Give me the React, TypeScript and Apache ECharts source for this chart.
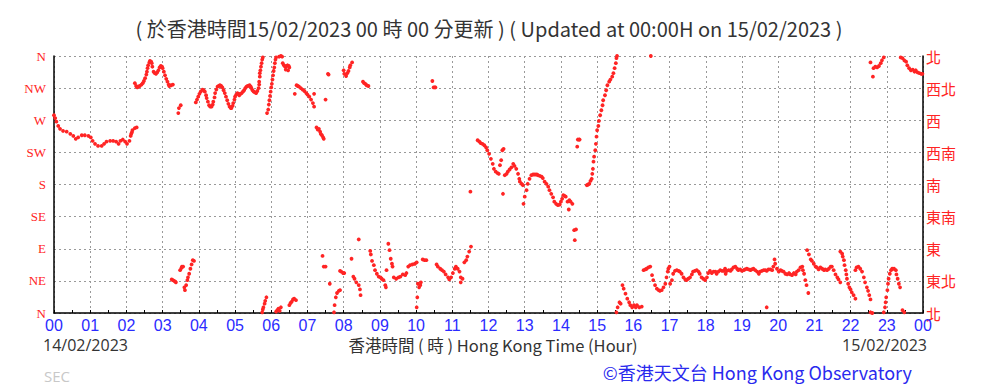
import React, { useEffect, useRef } from "react";
import * as echarts from "echarts";

// x: minutes after 00:00 on 14/02/2023, y: wind direction in degrees (0 = N, 360 = N)
const hourLabels = ["00","01","02","03","04","05","06","07","08","09","10","11","12","13","14","15","16","17","18","19","20","21","22","23","00"];
const dirLabelsEn = ["N","NE","E","SE","S","SW","W","NW","N"];
const dirLabelsZh = ["北","東北","東","東南","南","西南","西","西北","北"];

const seg0000 = [[0,277],[2,273],[4,268],[7,262],[10,258],[15,255],[21,254],[27,251],[32,248],[36,244],[40,246],[46,249],[51,249],[57,248],[61,246],[64,241],[68,237],[73,234],[79,234],[83,237],[87,240],[93,241],[98,241],[103,240],[107,237],[110,241],[114,243],[118,240],[121,237],[125,241],[127,248],[128,251],[129,253],[130,256],[134,259],[137,260]];
const seg0215 = [[134,322],[136,318],[138,316],[140,317],[142,318],[145,320],[147,322],[149,325],[151,329],[153,334],[154,338],[155,343],[156,347],[158,351],[159,353],[161,352],[162,350],[163,345],[165,338],[167,336],[169,335],[171,337],[173,340],[175,344],[177,346],[179,345],[180,343],[182,338],[184,333],[186,328],[188,324],[190,320],[191,318],[194,319],[197,320]];
const seg0325 = [[206,280],[207,287],[210,291]];
const seg0315 = [[195,47],[197,46],[199,45],[201,44],[202,43],[209,60],[211,63],[212,65],[214,65],[216,36],[217,32],[219,39],[221,46],[222,50],[224,55],[226,62],[228,68],[230,74],[232,73]];
const seg0355 = [[235,295],[237,299],[239,303],[241,307],[243,310],[246,313],[248,312],[250,310],[252,305],[253,301],[255,296],[257,291],[259,289],[261,289],[263,292],[264,296],[266,302],[267,308],[269,313],[271,317],[273,318],[275,319],[277,318],[279,316],[281,312],[283,308],[285,303],[287,298],[289,293],[291,289],[293,287],[294,287],[296,290],[297,294],[299,299],[300,303],[302,306],[304,308],[306,307],[307,305],[309,307],[311,308],[313,310],[315,312],[317,315],[319,317],[321,318],[324,319],[326,317],[327,315],[329,312],[331,310],[333,309],[335,308],[337,311],[339,315],[340,320],[340,324],[341,331],[341,336],[342,340],[343,345],[344,350],[345,355],[346,358]];
const seg0545 = [[345,1],[346,5],[347,8],[349,13],[350,17],[352,22],[368,2],[370,4],[372,6],[374,3],[376,8],[390,11],[392,14],[394,16],[396,19],[398,20],[401,18]];
const seg0553 = [[353,280],[355,285],[356,292],[357,298],[358,304],[359,310],[360,316],[361,321],[362,327],[363,333],[364,339],[365,344],[366,350],[367,355],[368,358]];
const seg0613 = [[373,359],[376,360],[378,359],[379,350],[381,347],[383,345],[385,346],[387,347],[389,346],[390,344],[384,341],[388,340]];
const seg0640 = [[399,307],[402,319],[404,318],[406,317],[409,315],[412,313],[415,311],[418,308],[420,306],[423,303],[426,299],[429,294],[431,289],[431,307]];
const seg0715 = [[435,260],[437,257],[439,258],[441,254],[442,251],[444,249],[446,246],[447,244],[450,299],[454,335],[455,334]];
const seg0800 = [[480,340],[481,335],[484,332],[486,336],[488,339],[490,344],[491,347],[494,351]];
const seg0830 = [[512,324],[514,322],[516,321],[518,319],[521,318]];
const seg1025 = [[627,325],[629,316],[631,316],[632,316]];
const seg0725 = [[445,80],[447,65],[450,65],[457,41],[464,1],[465,11],[467,22],[469,28],[472,31],[474,32],[474,59],[476,58],[479,56],[481,56],[493,76]];
const seg0815 = [[496,51],[498,48],[501,43],[505,39],[507,33],[508,25],[505,103]];
const seg0845 = [[524,87],[525,82],[527,73],[530,67],[532,60],[535,55],[538,51],[541,50],[543,48],[546,46],[549,39],[550,36]];
const seg0915 = [[554,97],[556,88],[558,76],[560,69],[561,65],[551,60]];
const seg0925 = [[563,50],[567,48],[571,50],[574,51],[578,54],[582,53],[584,56],[587,65],[590,67],[594,68],[598,69],[601,71]];
const seg1000 = [[603,41],[605,36],[607,39],[608,43],[602,22],[601,8],[611,75],[614,74],[617,74]];
const seg1035 = [[634,68],[636,65],[640,62],[643,60],[646,58],[649,54],[653,50],[655,47],[658,50],[661,56],[664,62],[666,65],[669,62],[672,58],[674,50],[677,48],[674,43]];
const seg1120 = [[680,71],[683,74],[685,79],[688,86],[691,93],[690,170]];
const seg1140 = [[702,242],[705,240],[707,238],[710,237],[713,235],[716,232],[718,228],[721,223],[724,216],[727,209],[729,202],[732,198],[735,196]];
const seg1215 = [[737,195],[739,207],[741,214],[743,228],[745,230],[744,167],[747,193],[750,195],[752,198],[755,201],[758,204],[761,209],[763,206],[766,202],[769,195],[771,188],[772,184],[775,181],[777,179]];
const seg1300 = [[778,153],[780,163],[783,172],[785,181],[788,188],[791,193],[794,194],[797,194],[800,194],[802,193],[805,192],[808,191],[810,189],[813,184],[816,181],[819,177],[821,172],[824,167],[827,162],[829,156],[832,153],[835,151],[838,152],[840,156],[842,160],[844,165],[846,164],[848,163],[851,156],[854,158],[856,156],[859,153],[853,145]];
const seg1420 = [[862,116],[865,117],[863,102],[867,233],[868,243],[870,243],[871,243]];
const seg1440 = [[883,179],[885,180],[887,181],[889,185],[891,188],[892,195],[893,202],[894,212],[895,219],[897,228],[898,237],[899,247],[900,256],[902,262],[903,269],[905,277],[907,284],[909,291],[910,298],[913,305],[915,312],[917,319],[920,324],[922,327],[925,331],[927,336],[929,343],[931,350],[932,357],[933,360]];
const seg1530 = [[932,1],[934,8],[937,15],[939,13],[942,39],[944,34],[947,27],[950,20],[953,15],[955,11],[958,8],[961,11],[964,8],[966,11],[970,8],[974,9],[989,360]];
const seg1615 = [[977,60],[980,61],[982,62],[985,64],[988,65],[991,53],[993,46],[996,39],[999,34],[1002,32],[1004,31],[1007,32],[1010,36],[1013,41],[1015,50],[1017,58],[1018,62],[1020,65],[1021,41],[1024,46],[1026,55],[1029,59],[1032,60],[1035,59],[1037,58],[1040,55],[1043,50],[1046,47],[1048,46],[1051,48],[1054,50],[1057,54],[1059,58],[1062,59],[1065,60],[1068,58],[1070,55],[1073,50],[1076,48]];
const seg1800 = [[1079,46],[1082,50],[1084,56],[1087,59],[1090,56],[1093,58],[1096,58],[1098,55],[1101,58],[1104,60],[1107,59],[1110,59],[1112,62],[1113,55],[1115,59],[1118,60],[1121,59],[1123,61],[1126,64],[1129,65],[1132,62],[1134,60],[1137,61],[1140,59],[1143,60],[1145,61],[1148,62],[1151,61],[1154,60],[1156,61],[1159,62],[1162,60],[1165,58],[1168,55],[1170,58],[1173,59],[1176,60],[1179,60],[1181,59],[1184,61],[1187,61],[1190,60],[1192,65],[1194,75],[1195,69],[1198,62],[1201,58],[1204,60],[1206,59],[1209,58],[1212,55],[1215,54],[1218,56],[1220,54],[1223,53],[1226,56],[1229,54],[1231,58],[1234,60],[1237,64],[1240,65],[1241,60],[1243,55],[1245,46],[1247,39],[1250,28],[1181,8]];
const seg2050 = [[1248,88],[1251,82],[1254,75],[1256,73],[1259,69],[1262,65],[1264,64],[1267,61],[1270,64],[1273,62],[1276,60],[1278,61],[1281,60],[1284,62],[1287,65],[1289,65],[1292,60],[1295,54],[1298,50],[1300,47],[1303,43]];
const seg2145 = [[1303,86],[1306,83],[1307,79],[1309,74],[1310,67],[1312,60],[1313,54],[1314,48],[1316,41],[1318,36],[1320,33],[1322,29],[1325,25],[1328,20]];
const seg2210 = [[1328,60],[1330,64],[1333,65],[1336,62],[1339,58],[1342,50],[1344,43],[1347,36],[1349,31],[1351,25],[1353,19],[1353,1],[1356,0]];
const seg2235 = [[1353,351],[1357,331],[1358,343],[1361,345],[1364,344],[1367,346],[1370,350],[1372,354],[1375,358]];
const seg2255 = [[1375,1],[1377,8],[1378,15],[1379,22],[1381,32],[1382,41],[1383,48],[1385,55],[1387,60],[1389,62],[1392,62],[1395,60],[1396,54],[1398,48],[1400,41],[1402,36],[1406,4],[1409,1]];
const seg2325 = [[1403,358],[1406,357],[1409,354],[1412,352],[1414,347],[1417,343],[1420,340],[1423,341],[1426,338],[1428,340],[1431,337],[1434,336],[1437,335],[1439,335]];

const allPoints = [
  ...seg0000, ...seg0215, ...seg0325, ...seg0315, ...seg0355, ...seg0545, ...seg0553, ...seg0613,
  ...seg0640, ...seg0715, ...seg0800, ...seg0830, ...seg1025, ...seg0725, ...seg0815, ...seg0845,
  ...seg0915, ...seg0925, ...seg1000, ...seg1035, ...seg1120, ...seg1140, ...seg1215, ...seg1300,
  ...seg1420, ...seg1440, ...seg1530, ...seg1615, ...seg1800, ...seg2050, ...seg2145, ...seg2210,
  ...seg2235, ...seg2255, ...seg2325,
];

const RED = "#ff2424";
const BLUE = "#2b2bff";

export default function App() {
  const ref = useRef<HTMLDivElement>(null);
  useEffect(() => {
    document.body.style.margin = "0";
    const chart = echarts.init(ref.current!, null, { renderer: "svg" });
    chart.setOption({
      animation: false,
      backgroundColor: "#ffffff",
      grid: { left: 54, right: 60, top: 56, bottom: 75 },
      xAxis: {
        type: "value",
        min: 0,
        max: 1440,
        interval: 60,
        axisLine: { show: true, onZero: false, lineStyle: { color: "#000", width: 1.5 } },
        axisTick: { show: true, inside: true, length: 3, lineStyle: { color: "#000" } },
        minorTick: { show: true, splitNumber: 2, length: 3, lineStyle: { color: "#000" } },
        axisLabel: {
          color: BLUE,
          fontSize: 16,
          fontFamily: "Liberation Sans",
          margin: 4,
          formatter: (v: number) => hourLabels[Math.round(v / 60)],
        },
        splitLine: { show: true, lineStyle: { color: "#999", type: [2, 3], width: 1 } },
      },
      yAxis: [
        {
          type: "value",
          min: 0,
          max: 360,
          interval: 45,
          position: "left",
          axisLine: { show: true, onZero: false, lineStyle: { color: "#000", width: 1.5 } },
          axisTick: { show: false },
          axisLabel: {
            color: RED,
            fontSize: 13,
            fontFamily: "Liberation Serif",
            margin: 8,
            formatter: (v: number) => dirLabelsEn[Math.round(v / 45)],
          },
          splitLine: { show: true, lineStyle: { color: "#999", type: [2, 3], width: 1 } },
        },
        {
          type: "value",
          min: 0,
          max: 360,
          interval: 45,
          position: "right",
          axisLine: { show: true, onZero: false, lineStyle: { color: "#000", width: 1.5 } },
          axisTick: { show: false },
          axisLabel: {
            color: RED,
            fontSize: 15,
            fontFamily: "Noto Sans CJK TC",
            margin: 3,
            formatter: (v: number) => dirLabelsZh[Math.round(v / 45)],
          },
          splitLine: { show: false },
        },
      ],
      series: [
        {
          type: "scatter",
          data: allPoints,
          symbol: "circle",
          symbolSize: 3.8,
          itemStyle: { color: RED, opacity: 1 },
          z: 5,
        },
      ],
      graphic: [
        {
          type: "text",
          x: 489,
          y: 28,
          style: {
            text: "( 於香港時間15/02/2023 00 時 00 分更新 ) ( Updated at 00:00H on 15/02/2023 )",
            fill: "#333",
            fontSize: 20,
            fontFamily: "Noto Sans CJK TC",
            textAlign: "center",
            textVerticalAlign: "middle",
          },
        },
        {
          type: "text",
          x: 43,
          y: 345,
          style: { text: "14/02/2023", fill: "#333", fontSize: 16, fontFamily: "Open Sans", textAlign: "left", textVerticalAlign: "middle" },
        },
        {
          type: "text",
          x: 493,
          y: 345,
          style: { text: "香港時間 ( 時 ) Hong Kong Time (Hour)", fill: "#333", fontSize: 16.5, fontFamily: "Noto Sans CJK TC", textAlign: "center", textVerticalAlign: "middle" },
        },
        {
          type: "text",
          x: 927,
          y: 345,
          style: { text: "15/02/2023", fill: "#333", fontSize: 16, fontFamily: "Open Sans", textAlign: "right", textVerticalAlign: "middle" },
        },
        {
          type: "text",
          x: 44,
          y: 376,
          style: { text: "SEC", fill: "#c8c8c8", fontSize: 15, fontFamily: "Open Sans", textAlign: "left", textVerticalAlign: "middle" },
        },
        {
          type: "text",
          x: 912,
          y: 372,
          style: { text: "©香港天文台 Hong Kong Observatory", fill: "#2a2aee", fontSize: 18, fontFamily: "Noto Sans CJK TC", textAlign: "right", textVerticalAlign: "middle" },
        },
      ],
    });
    return () => chart.dispose();
  }, []);
  return <div ref={ref} style={{ width: 983, height: 388 }} />;
}
